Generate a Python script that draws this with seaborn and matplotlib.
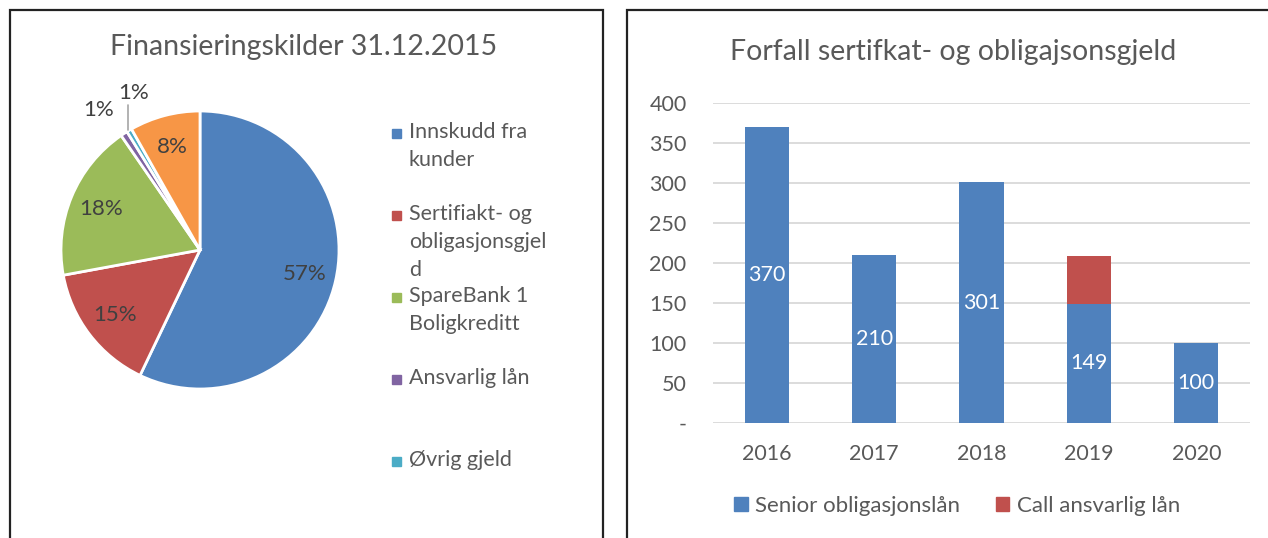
import matplotlib
import numpy as np
import seaborn as sns
from matplotlib import pyplot as plt
from matplotlib.patches import Rectangle

matplotlib.use("Agg")

# Pie: funding sources 31.12.2015 (share in %)
pie_labels = ["Innskudd fra\nkunder", "Sertifiakt- og\nobligasjonsgjel\nd",
              "SpareBank 1\nBoligkreditt", "Ansvarlig lån", "Øvrig gjeld", "Egenkapital"]
pie_values = [57.1, 15.0, 18.3, 0.8, 0.6, 8.2]
pie_colors = ["#4F81BD", "#C0504D", "#9BBB59", "#8064A2", "#4BACC6", "#F79646"]

# Bars: maturity of certificate and bond debt
years = ["2016", "2017", "2018", "2019", "2020"]
senior = [370, 210, 301, 149, 100]
call = [0, 0, 0, 60, 0]
y_ticks = [0, 50, 100, 150, 200, 250, 300, 350, 400]
y_tick_labels = ["-", "50", "100", "150", "200", "250", "300", "350", "400"]

W, H = 1268, 538
TXT = "#595959"

sns.set_theme(style="white")
plt.rcParams["font.family"] = ["Lato", "DejaVu Sans"]

fig = plt.figure(figsize=(W / 100, H / 100), dpi=100)


def px_box(x0, y0, x1, y1):
    """Pixel box (top-left origin) to figure fraction rect."""
    return [x0 / W, 1 - y1 / H, (x1 - x0) / W, (y1 - y0) / H]


# Panel borders
for x0, x1 in [(10, 603), (627, 1290)]:
    fig.patches.append(Rectangle((x0 / W, -0.05), (x1 - x0) / W, 1 - 10 / H + 0.05,
                                 transform=fig.transFigure, fill=False,
                                 edgecolor="#222222", linewidth=1.6))

# ---- Pie ----
cx, cy, r = 200, 250, 139
ax1 = fig.add_axes(px_box(cx - r, cy - r, cx + r, cy + r))
wedges, texts, autotexts = ax1.pie(
    pie_values, colors=pie_colors, startangle=90, counterclock=False,
    autopct="%.0f%%", pctdistance=0.77,
    wedgeprops=dict(edgecolor="white", linewidth=2),
    textprops=dict(color="#404040", fontsize=16))
ax1.set_xlim(-1, 1)
ax1.set_ylim(-1, 1)
ax1.set_aspect("equal")
# small slices get labels outside
autotexts[3].set_position((-0.73, 1.01))
autotexts[4].set_position((-0.48, 1.13))
ax1.plot([-0.52, -0.52], [0.86, 1.04], color="#a6a6a6", lw=1.2, clip_on=False)

fig.text(304 / W, 1 - 47 / H, "Finansieringskilder 31.12.2015",
         ha="center", va="center", fontsize=20.5, color=TXT)

# legend (the sixth entry falls below the panel edge)
for i in range(5):
    y = 133 + 82 * i
    fig.patches.append(Rectangle((392 / W, 1 - (y + 5) / H), 9 / W, 9 / H,
                                 transform=fig.transFigure, color=pie_colors[i]))
    fig.text(409 / W, 1 - (y - 11) / H, pie_labels[i], ha="left", va="top",
             fontsize=15.5, color=TXT, linespacing=1.5)

# ---- Bars ----
ax2 = fig.add_axes(px_box(713, 103, 1250, 423))
total = np.array(senior) + np.array(call)
sns.barplot(x=years, y=total, color="#C0504D", width=0.41, saturation=1,
            linewidth=0, ax=ax2)
sns.barplot(x=years, y=senior, color="#4F81BD", width=0.41, saturation=1,
            linewidth=0, ax=ax2)
ax2.bar_label(ax2.containers[1], label_type="center", color="white", fontsize=15.5)
ax2.set_ylim(0, 400)
ax2.set_xlim(-0.5, 4.5)
ax2.set_yticks(y_ticks, y_tick_labels)
ax2.yaxis.grid(True, color="#d9d9d9", linewidth=1.3)
ax2.set_axisbelow(True)
for s in ax2.spines.values():
    s.set_visible(False)
ax2.tick_params(axis="both", length=0, labelsize=15.5, colors=TXT)
ax2.tick_params(axis="x", pad=15)
ax2.tick_params(axis="y", pad=19)

handles = [Rectangle((0, 0), 1, 1, color="#4F81BD"), Rectangle((0, 0), 1, 1, color="#C0504D")]
ax2.legend(handles, ["Senior obligasjonslån", "Call ansvarlig lån"], loc="center",
           bbox_to_anchor=(0.455, -0.26), ncol=2, frameon=False, fontsize=16,
           handlelength=0.6, handleheight=0.6, handletextpad=0.35, columnspacing=1.6,
           labelcolor=TXT)

fig.text(953 / W, 1 - 52 / H, "Forfall sertifkat- og obligajsonsgjeld",
         ha="center", va="center", fontsize=20.5, color=TXT)

fig.savefig("out.png", dpi=100, facecolor="white")
